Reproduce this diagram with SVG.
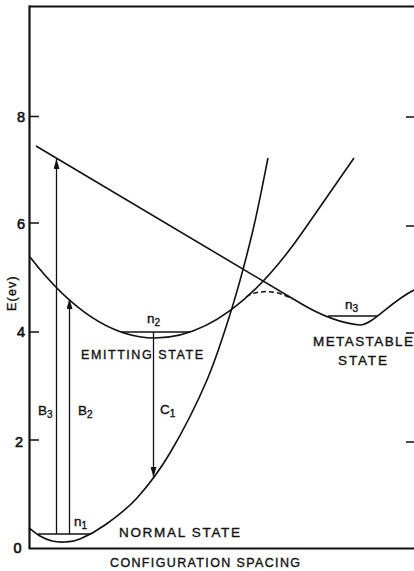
<svg xmlns="http://www.w3.org/2000/svg" width="414" height="571" viewBox="0 0 414 571">
<style>
.frame{fill:none;stroke:#111;stroke-width:2.2}
.tick{fill:none;stroke:#111;stroke-width:1.5}
.curve{fill:none;stroke:#111;stroke-width:1.6}
.dash{fill:none;stroke:#111;stroke-width:1.5;stroke-dasharray:5,3}
.lvl{fill:none;stroke:#111;stroke-width:1.4}
.arr{fill:none;stroke:#111;stroke-width:1.3}
text{font-family:"Liberation Sans","DejaVu Sans",sans-serif;fill:#111;stroke:#111;stroke-width:0.35}
.lab{font-size:13.5px}
.sm{font-size:12.5px}
.num{font-size:14.5px;stroke-width:0.6}
.sub{font-size:10px}
</style>
<defs>
<marker id="ah" markerUnits="userSpaceOnUse" viewBox="0 0 10 6" refX="10" refY="3" markerWidth="10" markerHeight="6" orient="auto">
<path d="M0,0 L10,3 L0,6 z" fill="#111"/>
</marker>
</defs>
<rect width="414" height="571" fill="#fff"/>
<g id="axes">
<path class="frame" d="M29,6.5 L414,6.5" stroke-width="2.8"/>
<path class="frame" d="M29.5,5.5 L29.5,549"/>
<path class="frame" d="M29,548.5 L414,548.5"/>
<path class="tick" d="M30,116.5 H39 M30,223 H39 M30,332 H39 M30,440 H39"/>
<path class="tick" d="M406,117 H414 M406,226 H414 M406,333 H414 M406,442 H414"/>
<text class="num" x="21" y="122" text-anchor="middle">8</text>
<text class="num" x="21" y="229" text-anchor="middle">6</text>
<text class="num" x="21" y="337" text-anchor="middle">4</text>
<text class="num" x="19" y="447" text-anchor="middle">2</text>
<text class="num" x="17.5" y="553" text-anchor="middle">0</text>
<text class="sm" transform="translate(16,293) rotate(-90)" text-anchor="middle" letter-spacing="1.2">E(ev)</text>
<text class="sm" x="110" y="567" textLength="190" lengthAdjust="spacing">CONFIGURATION SPACING</text>
</g>
<g id="normal-state">
<path class="curve" d="M29,528 C30.8,529.3 36.2,533.8 40,536 C43.8,538.2 47.8,540 52,541 C56.2,542 60.3,542.3 65,542 C69.7,541.7 73.3,541.8 80,539 C86.7,536.2 95.5,531.8 105,525 C114.5,518.2 126.2,510 137,498 C147.8,486 158.3,472.7 170,453 C181.7,433.3 196.7,404.2 207,380 C217.3,355.8 224.3,333 232,308 C239.7,283 247,255 253,230 C259,205 265.5,170 268,158"/>
<path class="lvl" d="M38,534 H90"/>
<text class="lab" x="74" y="526">n<tspan class="sub" dy="3">1</tspan></text>
<text class="lab" x="119" y="537" textLength="121" lengthAdjust="spacing">NORMAL STATE</text>
</g>
<g id="emitting-state">
<path class="curve" d="M30,257 Q92.5,338 155,338 Q229.5,338 304,230 L354,158"/>
<path class="lvl" d="M121,332 H190"/>
<text class="lab" x="147" y="323">n<tspan class="sub" dy="3">2</tspan></text>
<text class="sm" x="81" y="359" textLength="122" lengthAdjust="spacing">EMITTING STATE</text>
</g>
<g id="metastable-state">
<path class="curve" d="M36,146 L300,303 C315,312 338,323 360,325 C372,325 390,302 414,290"/>
<path class="dash" d="M246,297 C256,290 276,289 292,299"/>
<path class="lvl" d="M328,316 H377"/>
<text class="lab" x="345" y="309">n<tspan class="sub" dy="3">3</tspan></text>
<text class="lab" x="313" y="346" textLength="100" lengthAdjust="spacing">METASTABLE</text>
<text class="lab" x="338" y="365" textLength="49" lengthAdjust="spacing">STATE</text>
</g>
<g id="connectors">
<path class="arr" d="M56.5,534 V159" marker-end="url(#ah)"/>
<path class="arr" d="M69.5,534 V299" marker-end="url(#ah)"/>
<path class="arr" d="M153.5,332 V477" marker-end="url(#ah)"/>
<text class="lab" x="38" y="415">B<tspan class="sub" dy="3">3</tspan></text>
<text class="lab" x="78" y="415">B<tspan class="sub" dy="3">2</tspan></text>
<text class="lab" x="160" y="414">C<tspan class="sub" dy="3">1</tspan></text>
</g>
</svg>
